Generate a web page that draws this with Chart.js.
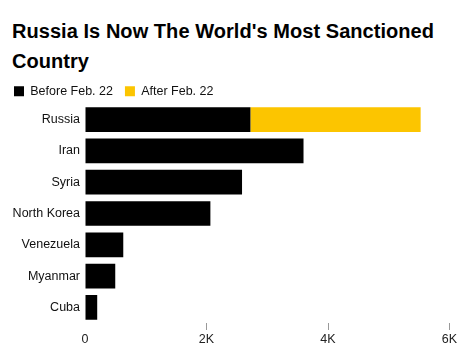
<!DOCTYPE html>
<html>
<head>
<meta charset="utf-8">
<script src="https://cdn.jsdelivr.net/npm/chart.js@4"></script>
<style>
  body { margin: 0; background: #fff; }
  #wrap { position: relative; width: 473px; height: 363px; }
  #title {
    position: absolute; left: 12px; top: 16px; margin: 0;
    font: bold 20px "Liberation Sans", Arial, sans-serif;
    line-height: 30px; color: #000; letter-spacing: 0.05px;
  }
  canvas { position: absolute; left: 0; top: 0; }
</style>
</head>
<body>
<div id="wrap">
  <h1 id="title">Russia Is Now The World's Most Sanctioned<br>Country</h1>
  <canvas id="sanctionsChart" width="473" height="363"></canvas>
</div>
<script>
//chart data
var countries = ['Russia', 'Iran', 'Syria', 'North Korea', 'Venezuela', 'Myanmar', 'Cuba'];
var beforeFeb22 = [2723, 3597, 2585, 2064, 630, 498, 201];
var afterFeb22 = [2802, 0, 0, 0, 0, 0, 0];
var xTickLabels = ['0', '2K', '4K', '6K'];

var font = '"Liberation Sans", Arial, sans-serif';

//make the legend a little shorter so the bars sit closer to it
var legendFit = {
    id: 'legendFit',
    beforeInit: function(chart) {
        const origFit = chart.legend.fit;
        chart.legend.fit = function() {
            origFit.bind(chart.legend)();
            this.height -= 3.5;
        };
    }
};

function plot(element) {
    const ctx = document.getElementById(element).getContext('2d');

    const myChart = new Chart(ctx, {
      type: 'bar',
      data: {
        labels: countries,
        datasets: [{
          label: 'Before Feb. 22',
          data: beforeFeb22,
          backgroundColor: '#000000',
          barPercentage: 0.79,
          categoryPercentage: 1
        }, {
          label: 'After Feb. 22',
          data: afterFeb22,
          backgroundColor: '#fcc500',
          barPercentage: 0.79,
          categoryPercentage: 1
        }]
      },
      options: {
        indexAxis: 'y',
        responsive: false,
        animation: false,
        layout: { padding: { left: 2, right: 23.5, top: 73, bottom: 13 } },
        scales: {
          x: {
            stacked: true,
            min: 0,
            max: 6000,
            ticks: {
              stepSize: 2000,
              padding: 2.5,
              color: '#222',
              font: { family: font, size: 12.5 },
              callback: function(value, index) { return xTickLabels[index]; }
            },
            grid: {
              drawOnChartArea: false,
              tickLength: 7,
              tickColor: function(c) { return c.index === 0 ? 'rgba(0,0,0,0)' : '#999'; }
            },
            border: { display: false }
          },
          y: {
            stacked: true,
            ticks: {
              padding: 5,
              color: '#111',
              font: { family: font, size: 12.5 }
            },
            grid: { display: false, drawTicks: false },
            border: { display: false },
            afterFit: function(axis) { axis.width = 83; }
          }
        },
        plugins: {
          legend: {
            align: 'start',
            labels: {
              boxWidth: 10,
              boxHeight: 10,
              padding: 12,
              color: '#111',
              font: { family: font, size: 12.5 }
            }
          },
          tooltip: { enabled: false }
        }
      },
      plugins: [legendFit]
    });
}

plot('sanctionsChart');
</script>
</body>
</html>
